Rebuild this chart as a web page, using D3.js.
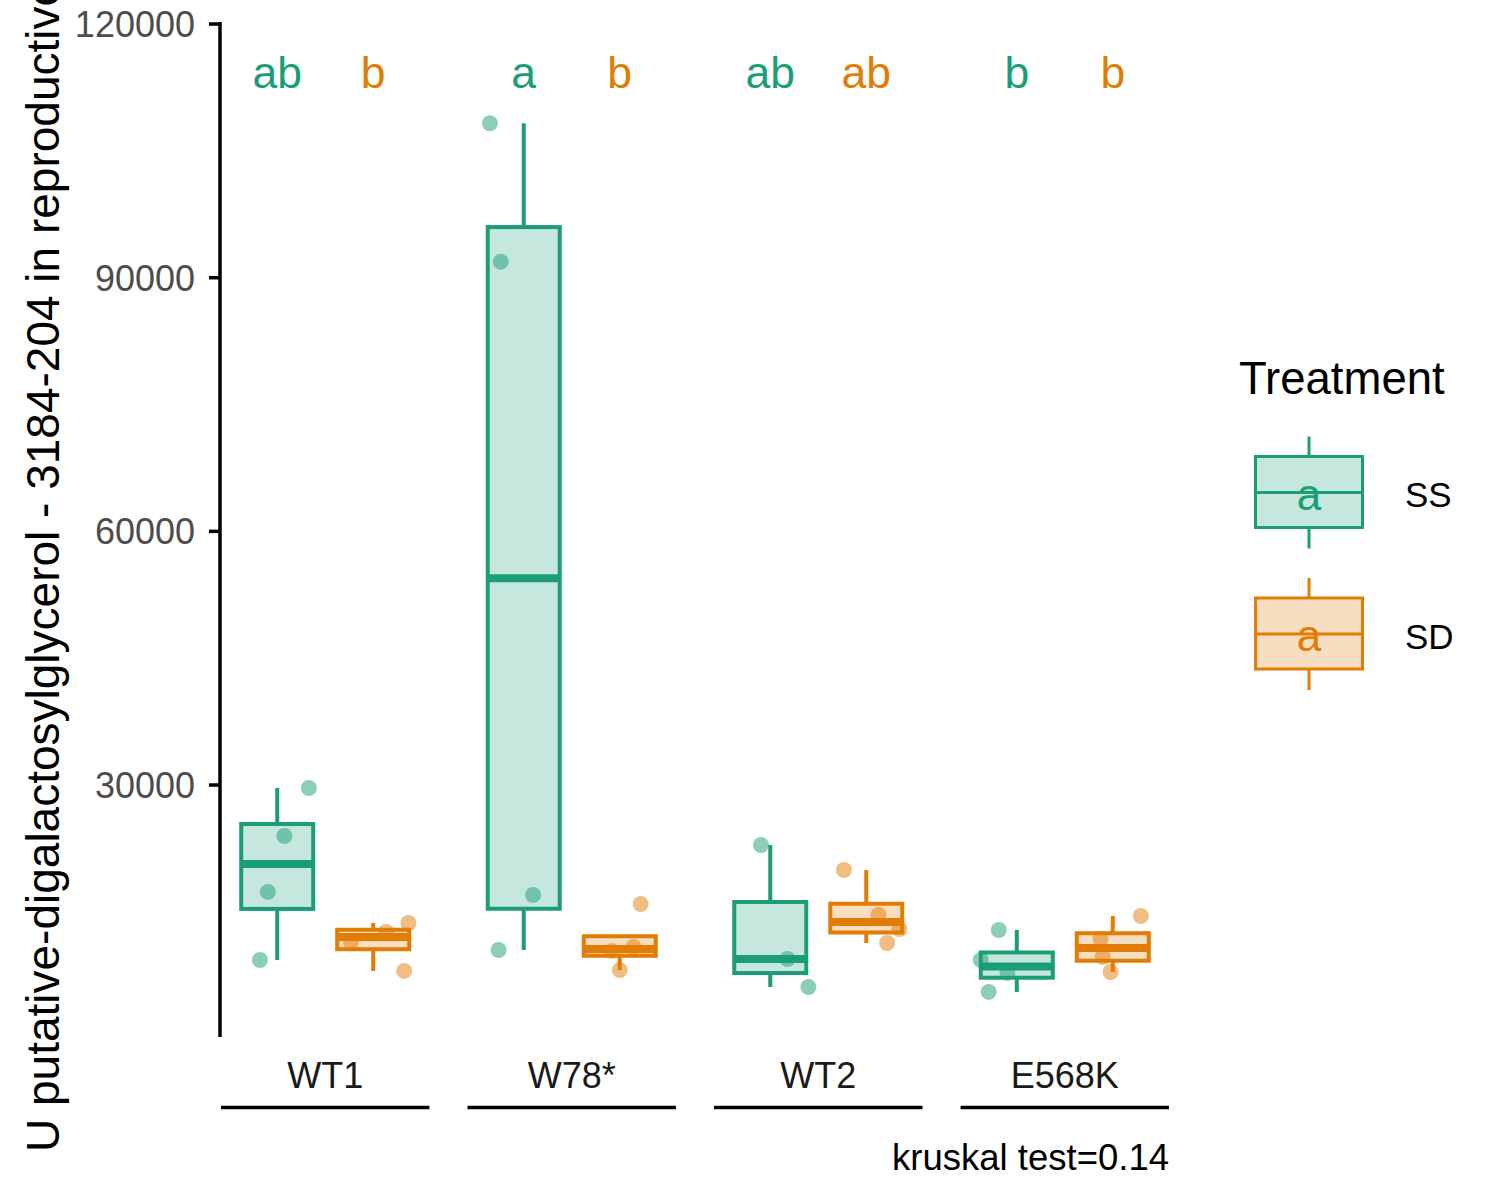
<!DOCTYPE html>
<html>
<head>
<meta charset="utf-8">
<script src="https://cdn.jsdelivr.net/npm/d3@7"></script>
<style>
  html, body { margin: 0; padding: 0; background: #fff; }
  svg { display: block; font-family: "Liberation Sans", Arial, Helvetica, sans-serif; }
</style>
</head>
<body>
<svg id="chart" width="1500" height="1200"></svg>
<script>
// ---- data ----
const categories = ["WT1", "W78*", "WT2", "E568K"];
const treatments = ["SS", "SD"];
const ssValues = [
  [29650, 23970, 17360, 9310],
  [108265, 91895, 16995, 10490],
  [22910, 9425, 6110],
  [12857, 9310, 7773, 5526]
];
const sdValues = [
  [13685, 12620, 11440, 8010],
  [15930, 10845, 10370, 8120],
  [19952, 14630, 12974, 11318],
  [14512, 11792, 9663, 7890]
];
// horizontal jitter of each point, as a fraction of the box width
const ssJitter = [
  [0.44, 0.10, -0.13, -0.24],
  [-0.47, -0.32, 0.13, -0.35],
  [-0.13, 0.24, 0.53],
  [-0.25, -0.50, -0.13, -0.39]
];
const sdJitter = [
  [0.49, 0.18, -0.31, 0.43],
  [0.29, 0.19, -0.11, 0.0],
  [-0.31, 0.17, 0.46, 0.29],
  [0.39, -0.17, -0.14, -0.03]
];
const ssLetters = ["ab", "a", "ab", "b"];
const sdLetters = ["b", "b", "ab", "b"];
const yTicks = [30000, 60000, 90000, 120000];
const yTitle = "U putative-digalactosylglycerol - 3184-204 in reproductive";
const legendTitle = "Treatment";
const caption = "kruskal test=0.14";
const letterLevel = 114000;

// ---- styles ----
const colors = { SS: "#1B9E77", SD: "#E17C05" };
const svg = d3.select("#chart");

const x = d3.scaleBand().domain(categories).range([221, 1169]).paddingInner(0.1545);
const xt = d3.scalePoint().domain(treatments).range([-48, 48]);
const boxW = 72;
const y = d3.scaleLinear().domain([200, 120240]).range([1037, 22]);

// build records
const groups = [];
categories.forEach((c, i) => {
  [["SS", ssValues[i], ssJitter[i], ssLetters[i]], ["SD", sdValues[i], sdJitter[i], sdLetters[i]]].forEach(([t, vals, jit, let_]) => {
    const s = vals.slice().sort(d3.ascending);
    const q1 = d3.quantile(s, 0.25), med = d3.quantile(s, 0.5), q3 = d3.quantile(s, 0.75);
    const iqr = q3 - q1;
    const inside = s.filter(v => v >= q1 - 1.5 * iqr && v <= q3 + 1.5 * iqr);
    const lo = d3.min([q1, med, q3, ...inside]);
    const hi = d3.max([q1, med, q3, ...inside]);
    const cx = x(c) + x.bandwidth() / 2 + xt(t);
    groups.push({ c, t, vals, jit, letter: let_, q1, med, q3, lo, hi, cx });
  });
});

// y axis
const yAxisG = svg.append("g").attr("transform", "translate(220,0)");
yAxisG.append("line").attr("x1", 0).attr("x2", 0).attr("y1", y.range()[1]).attr("y2", y.range()[0])
  .attr("stroke", "#000").attr("stroke-width", 3.5);
yAxisG.selectAll("line.tick").data(yTicks).join("line").attr("class", "tick")
  .attr("x1", -11).attr("x2", 0).attr("y1", d => y(d)).attr("y2", d => y(d))
  .attr("stroke", "#000").attr("stroke-width", 3.5);
yAxisG.selectAll("text.tl").data(yTicks).join("text").attr("class", "tl")
  .attr("x", -25).attr("y", d => y(d)).attr("dy", "0.36em")
  .attr("text-anchor", "end").attr("font-size", 36).attr("fill", "#4D4D4D")
  .text(d => d);

svg.append("text")
  .attr("transform", "translate(59,1152) rotate(-90)")
  .attr("text-anchor", "start").attr("font-size", 46).attr("fill", "#000")
  .text(yTitle);

// category labels and underlines
const catG = svg.append("g");
catG.selectAll("text").data(categories).join("text")
  .attr("x", d => x(d) + x.bandwidth() / 2).attr("y", 1088)
  .attr("text-anchor", "middle").attr("font-size", 36).attr("fill", "#1A1A1A")
  .text(d => d);
catG.selectAll("line").data(categories).join("line")
  .attr("x1", d => x(d)).attr("x2", d => x(d) + x.bandwidth())
  .attr("y1", 1107.5).attr("y2", 1107.5).attr("stroke", "#000").attr("stroke-width", 3.5);

// boxes
const bG = svg.append("g");
groups.forEach(g => {
  const col = colors[g.t];
  const gg = bG.append("g");
  gg.append("line").attr("x1", g.cx).attr("x2", g.cx).attr("y1", y(g.q3)).attr("y2", y(g.hi))
    .attr("stroke", col).attr("stroke-width", 4);
  gg.append("line").attr("x1", g.cx).attr("x2", g.cx).attr("y1", y(g.q1)).attr("y2", y(g.lo))
    .attr("stroke", col).attr("stroke-width", 4);
  gg.append("rect").attr("x", g.cx - boxW / 2).attr("width", boxW)
    .attr("y", y(g.q3)).attr("height", y(g.q1) - y(g.q3))
    .attr("fill", col).attr("fill-opacity", 0.25)
    .attr("stroke", col).attr("stroke-width", 4);
  gg.append("line").attr("x1", g.cx - boxW / 2).attr("x2", g.cx + boxW / 2)
    .attr("y1", y(g.med)).attr("y2", y(g.med))
    .attr("stroke", col).attr("stroke-width", 8);
});

// points
const pG = svg.append("g");
groups.forEach(g => {
  pG.selectAll(null).data(g.vals.map((v, i) => ({ v, j: g.jit[i] }))).join("circle")
    .attr("cx", d => g.cx + d.j * boxW).attr("cy", d => y(d.v)).attr("r", 8)
    .attr("fill", colors[g.t]).attr("fill-opacity", 0.5);
});

// letters
svg.append("g").selectAll("text").data(groups).join("text")
  .attr("x", d => d.cx).attr("y", y(letterLevel)).attr("dy", "0.3em")
  .attr("text-anchor", "middle").attr("font-size", 44.5).attr("fill", d => colors[d.t])
  .text(d => d.letter);

// caption
svg.append("text").attr("x", x(categories[3]) + x.bandwidth()).attr("y", 1170)
  .attr("text-anchor", "end").attr("font-size", 36.5).attr("fill", "#000").text(caption);

// legend
const lg = svg.append("g");
lg.append("text").attr("x", 1239).attr("y", 394).attr("font-size", 45.5).attr("fill", "#000").text(legendTitle);
treatments.forEach((t, i) => {
  const col = colors[t];
  const top = 456.5 + i * 141.5;
  const cx = 1309;
  const k = lg.append("g");
  k.append("line").attr("x1", cx).attr("x2", cx).attr("y1", top - 20).attr("y2", top)
    .attr("stroke", col).attr("stroke-width", 3);
  k.append("line").attr("x1", cx).attr("x2", cx).attr("y1", top + 71).attr("y2", top + 92)
    .attr("stroke", col).attr("stroke-width", 3);
  k.append("rect").attr("x", 1255.5).attr("y", top).attr("width", 107).attr("height", 71)
    .attr("fill", col).attr("fill-opacity", 0.25).attr("stroke", col).attr("stroke-width", 3);
  k.append("line").attr("x1", 1255.5).attr("x2", 1362.5).attr("y1", top + 36).attr("y2", top + 36)
    .attr("stroke", col).attr("stroke-width", 3);
  k.append("text").attr("x", cx).attr("y", top + 53).attr("text-anchor", "middle")
    .attr("font-size", 44).attr("fill", col).text("a");
  k.append("text").attr("x", 1405).attr("y", top + 50.5).attr("font-size", 35).attr("fill", "#000").text(t);
});
</script>
</body>
</html>
